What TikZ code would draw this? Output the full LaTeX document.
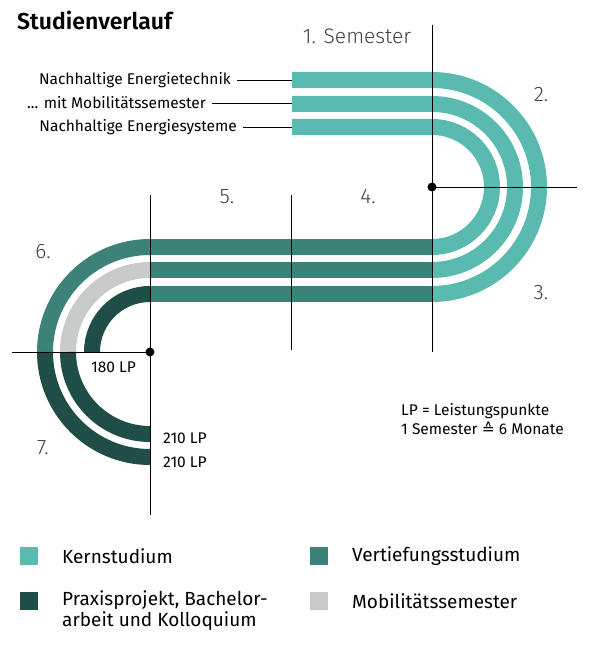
\documentclass[tikz,border=0pt]{standalone}
\usepackage{fontspec}
\setmainfont{Fira Sans Light}[BoldFont=Fira Sans SemiBold]
\newfontfamily\regf{Fira Sans}
\newfontfamily\symf{DejaVu Sans}
\begin{document}
\begin{tikzpicture}[x=1pt,y=1pt,
  bar/.style={line width=16pt},
  thin/.style={line width=0.9pt,black},
  lab/.style={font=\regf\fontsize{15.5}{18}\selectfont,inner sep=0pt},
  big/.style={font=\fontsize{21}{22}\selectfont,inner sep=0pt,text=black!75},
  leg/.style={font=\regf\fontsize{19}{21}\selectfont,inner sep=0pt,anchor=west,align=left}]
\definecolor{cK}{HTML}{5BBAAF}\definecolor{cV}{HTML}{3D8279}
\definecolor{cP}{HTML}{1F4E46}\definecolor{cM}{HTML}{C9CACB}
\useasboundingbox (0,0) rectangle (610,648);
\node[anchor=west,inner sep=0pt,font=\fontsize{23}{25}\selectfont\bfseries] (t) at (17,628) {Studienverlauf};
% right part
\draw[bar,cK] (292,568) -- (432,568) arc[start angle=90,end angle=-90,radius=107];
\draw[bar,cK] (292,544) -- (432,544) arc[start angle=90,end angle=-90,radius=83];
\draw[bar,cK] (292,521) -- (432,521) arc[start angle=90,end angle=-90,radius=60];
\draw[bar,cV] (432,354) -- (150,354);
\draw[bar,cV] (432,378) -- (150,378);
\draw[bar,cV] (432,401) -- (150,401);
% left arcs
\draw[bar,cP] (150,354) arc[start angle=90,end angle=180,radius=58];
\draw[bar,cM] (150,378) arc[start angle=90,end angle=180,radius=82];
\draw[bar,cP] (68,296) arc[start angle=180,end angle=270,radius=82];
\draw[bar,cV] (150,401) arc[start angle=90,end angle=180,radius=105];
\draw[bar,cP] (45,296) arc[start angle=180,end angle=270,radius=105];
% lines
\coordinate (d1) at (432,461); \coordinate (d2) at (150,296);
\draw[thin] (432,623) -- (432,296);
\draw[thin] (d1) -- (577,461);
\draw[thin] (291,453) -- (291,298);
\draw[thin] (150,453) -- (150,133);
\draw[thin] (12,296) -- (d2);
\fill (d1) circle (4.5); \fill (d2) circle (4.5);
% labels
\node[big] (s1) at (357,612) {1. Semester};
\node[big] (s2) at (541,553) {2.};
\node[big] (s3) at (541,355) {3.};
\node[big] (s4) at (368,451) {4.};
\node[big] (s5) at (227,451) {5.};
\node[big] (s6) at (43,396) {6.};
\node[big] (s7) at (43,200) {7.};
\node[lab,anchor=east] (n1) at (231,568) {Nachhaltige Energietechnik};
\node[lab,anchor=east] (n2) at (206,545) {... mit Mobilitätssemester};
\node[lab,anchor=east] (n3) at (237,521) {Nachhaltige Energiesysteme};
\draw[thin] (n1.east)++(6,0) -- (292,568);
\draw[thin] (n2.east)++(6,0) -- (292,545);
\draw[thin] (n3.east)++(6,0) -- (292,521);
\node[lab,anchor=west] (l180) at (91,281) {180 LP};
\node[lab,anchor=west] (l210a) at (163,210) {210 LP};
\node[lab,anchor=west] (l210b) at (163,186) {210 LP};
\node[lab,anchor=west,align=left] (lp) at (401,229) {LP = Leistungspunkte\\[1pt]1 Semester {\symf ≙} 6 Monate};
% legend
\fill[cK] (20,83) rectangle (38,101); \node[leg] (k) at (62,92) {Kernstudium};
\fill[cV] (310,83) rectangle (328,101); \node[leg] (v) at (352,92) {Vertiefungsstudium};
\fill[cP] (20,38) rectangle (38,56); \node[leg] (p) at (62,37) {Praxisprojekt, Bachelor-\\arbeit und Kolloquium};
\fill[cM] (310,38) rectangle (328,56); \node[leg] (m) at (352,47) {Mobilitätssemester};
\end{tikzpicture}
\end{document}
